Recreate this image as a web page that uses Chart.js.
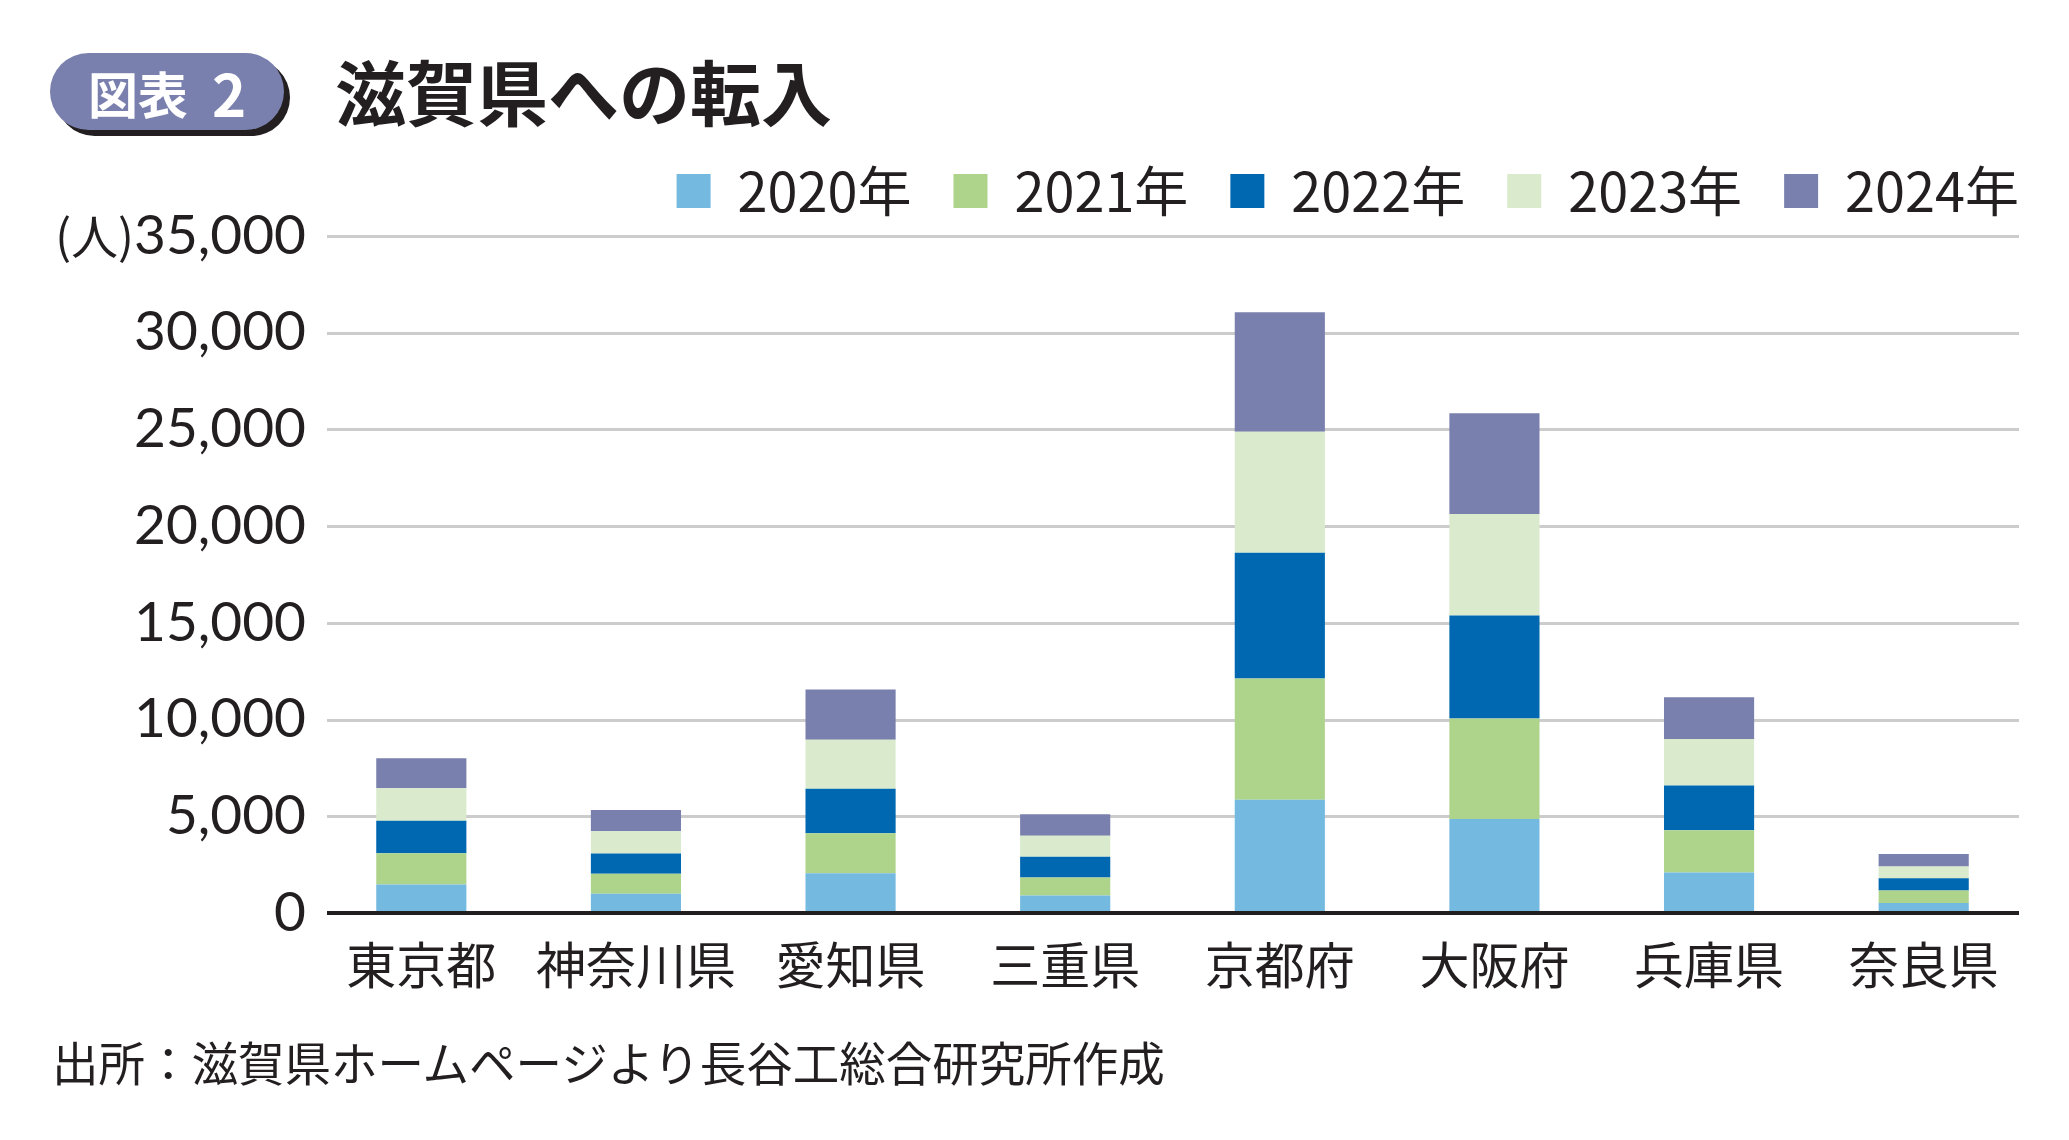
<!DOCTYPE html>
<html lang="ja">
<head>
<meta charset="utf-8">
<title>滋賀県への転入</title>
<script src="https://cdn.jsdelivr.net/npm/chart.js@4.4.1/dist/chart.umd.min.js"></script>
<style>
  html, body { margin: 0; padding: 0; background: #fff; overflow: hidden; }
  body { width: 2069px; height: 1140px; position: relative; font-family: "Noto Sans CJK JP", sans-serif; color: #231f20; }
  .badge {
    position: absolute; left: 50px; top: 53px; width: 234px; height: 77px;
    border-radius: 39px; background: #7a80ad; box-shadow: 6px 6px 0 #231f20;
    color: #fff; display: flex; align-items: center; justify-content: center;
    font-weight: 700; font-size: 50px; line-height: 1;
  }
  .badge .num { font-size: 58px; margin-left: 24px; }
  .title { position: absolute; left: 335px; top: 46px; font-size: 71px; line-height: 86px; font-weight: 700; }
  .source { position: absolute; left: 52px; top: 1033px; font-size: 46.5px; line-height: 56px; }
  #wrap { position: absolute; left: 0; top: 100px; width: 2100px; height: 1000px; }
</style>
</head>
<body>
<div class="badge"><span>図表</span><span class="num">2</span></div>
<div class="title">滋賀県への転入</div>
<div id="wrap"><canvas id="chart" width="2100" height="1000"></canvas></div>
<div class="source">出所：滋賀県ホームページより長谷工総合研究所作成</div>

<script>
// 都府県名
const categories = ['東京都', '神奈川県', '愛知県', '三重県', '京都府', '大阪府', '兵庫県', '奈良県'];

// 年ごとの転入者数（人）
const years = ['2020年', '2021年', '2022年', '2023年', '2024年'];
const v2020 = [1470,  990, 2060,  900, 5850, 4860, 2100, 520];
const v2021 = [1615, 1040, 2060,  940, 6270, 5200, 2180, 640];
const v2022 = [1680, 1040, 2310, 1070, 6500, 5320, 2310, 640];
const v2023 = [1680, 1160, 2530, 1090, 6260, 5250, 2400, 600];
const v2024 = [1560, 1090, 2590, 1110, 6180, 5200, 2170, 650];

// 縦軸の目盛り
const yTicks = [0, 5000, 10000, 15000, 20000, 25000, 30000, 35000];

const colors = ['#74b9df', '#aed48c', '#0068b1', '#d9ebcc', '#7a80ad'];
const textColor = '#231f20';

Chart.defaults.font.family = '"Noto Sans CJK JP", sans-serif';
Chart.defaults.color = textColor;

// 凡例とグラフの間を少し広げる
const legendGapPlugin = {
    id: 'legendGap',
    beforeLayout(chart) {
        const lg = chart.legend;
        if (!lg || lg._gapPatched) return;
        const fit = lg.fit;
        lg.fit = function() {
            fit.call(this);
            this.height += 8;
        };
        lg._gapPatched = true;
    }
};

// 目盛り線・基準線・単位を描く
const gridPlugin = {
    id: 'customGrid',
    beforeDatasetsDraw(chart) {
        const { ctx, chartArea, scales: { y } } = chart;
        const left = chartArea.left + 13;
        const right = chartArea.right - 12;
        ctx.save();
        ctx.strokeStyle = '#cccccc';
        ctx.lineWidth = 3;
        yTicks.forEach(v => {
            if (v === 0) return;
            const py = Math.round(y.getPixelForValue(v)) + 0.5;
            ctx.beginPath();
            ctx.moveTo(left, py);
            ctx.lineTo(right, py);
            ctx.stroke();
        });
        ctx.restore();
    },
    afterDatasetsDraw(chart) {
        const { ctx, chartArea, scales: { y } } = chart;
        const py = y.getPixelForValue(0);
        ctx.save();
        ctx.strokeStyle = textColor;
        ctx.lineWidth = 4;
        ctx.beginPath();
        ctx.moveTo(chartArea.left + 13, py);
        ctx.lineTo(chartArea.right - 12, py);
        ctx.stroke();
        ctx.restore();
    },
    afterDraw(chart) {
        const { ctx, scales: { y } } = chart;
        ctx.save();
        ctx.fillStyle = textColor;
        ctx.font = '47px "Noto Sans CJK JP"';
        ctx.textAlign = 'right';
        ctx.textBaseline = 'middle';
        ctx.fillText('(人)', 134, y.getPixelForValue(yTicks[yTicks.length - 1]));
        ctx.restore();
    }
};

const series = [v2020, v2021, v2022, v2023, v2024];

new Chart(document.getElementById('chart'), {
    type: 'bar',
    data: {
        labels: categories,
        datasets: series.map((data, i) => ({
            label: years[i],
            data: data,
            backgroundColor: colors[i],
            borderWidth: 0,
            barPercentage: 0.42,
            categoryPercentage: 1
        }))
    },
    options: {
        responsive: false,
        animation: false,
        layout: { padding: { top: 22, right: 39, bottom: 87, left: 0 } },
        plugins: {
            legend: {
                position: 'top',
                align: 'end',
                labels: {
                    boxWidth: 34,
                    boxHeight: 34,
                    padding: 42,
                    color: textColor,
                    font: { size: 54 }
                }
            },
            tooltip: { enabled: false }
        },
        scales: {
            x: {
                stacked: true,
                grid: { display: false },
                border: { display: false },
                ticks: { font: { size: 50 }, padding: 14, maxRotation: 0, autoSkip: false },
                afterFit: s => { s.height = 100; }
            },
            y: {
                stacked: true,
                min: yTicks[0],
                max: yTicks[yTicks.length - 1],
                grid: { display: false },
                border: { display: false },
                ticks: {
                    stepSize: 5000,
                    padding: 0,
                    font: { family: 'Lato', size: 55 },
                    callback: v => v.toLocaleString('en-US')
                },
                afterFit: s => { s.width = 314; }
            },
            yPad: {
                type: 'linear',
                position: 'right',
                grid: { display: false },
                border: { display: false },
                ticks: { display: false },
                afterFit: s => { s.width = 30; }
            }
        }
    },
    plugins: [legendGapPlugin, gridPlugin]
});
</script>
</body>
</html>
